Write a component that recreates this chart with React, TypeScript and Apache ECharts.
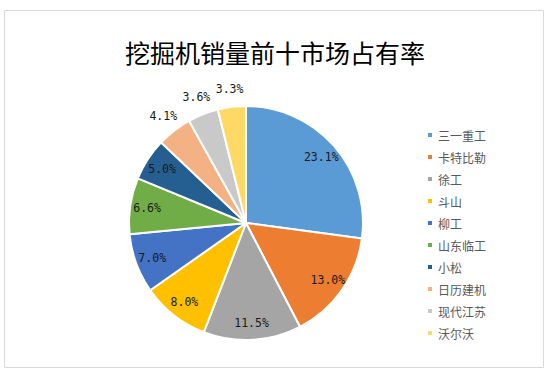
import React, { useEffect, useRef } from "react";
import * as echarts from "echarts";

const titleText = "挖掘机销量前十市场占有率";
const brands = ["三一重工", "卡特比勒", "徐工", "斗山", "柳工", "山东临工", "小松", "日历建机", "现代江苏", "沃尔沃"];
const shares = [23.1, 13.0, 11.5, 8.0, 7.0, 6.6, 5.0, 4.1, 3.6, 3.3];
const colors = ["#5B9BD5", "#ED7D31", "#A5A5A5", "#FFC000", "#4472C4", "#70AD47", "#255E91", "#F4B183", "#C9C9C9", "#FFD966"];
// which labels Excel placed outside the pie
const outsideLabel = [false, false, false, false, false, false, false, true, true, true];

export default function App() {
  const ref = useRef<HTMLDivElement>(null);
  useEffect(() => {
    if (!ref.current) return;
    const chart = echarts.init(ref.current, undefined, { renderer: "svg" });
    const center = [246, 223];
    const R = 117;
    const labelFont = {
      fontFamily: "DejaVu Sans Mono",
      fontSize: 11.5,
      color: "#1a1a1a",
    };
    const fmt = (p: any) => `${Number(p.value).toFixed(1)}%`;
    chart.setOption({
      animation: false,
      backgroundColor: "#ffffff",
      title: {
        text: titleText,
        left: 270,
        top: 34,
        textAlign: "center",
        textStyle: {
          fontFamily: "Noto Sans CJK SC",
          fontSize: 25,
          fontWeight: "normal",
          color: "#000000",
        },
      },
      graphic: [
        {
          type: "rect",
          shape: { x: 4.5, y: 10.5, width: 539, height: 357 },
          style: { fill: "none", stroke: "#D9D9D9", lineWidth: 1 },
          silent: true,
          z: -10,
        },
      ],
      legend: {
        orient: "vertical",
        left: 421,
        top: 124,
        itemWidth: 6,
        itemHeight: 6,
        itemGap: 10,
        icon: "rect",
        data: brands,
        textStyle: {
          fontFamily: "Noto Sans CJK SC",
          fontSize: 12,
          lineHeight: 12,
          color: "#595959",
        },
      },
      series: [
        {
          type: "pie",
          center,
          radius: [0, R],
          startAngle: 90,
          clockwise: true,
          avoidLabelOverlap: false,
          label: { show: false },
          labelLine: { show: false },
          itemStyle: { borderColor: "#ffffff", borderWidth: 2 },
          emphasis: { disabled: true },
          data: brands.map((n, i) => ({ name: n, value: shares[i], itemStyle: { color: colors[i] } })),
        },
        {
          type: "pie",
          center,
          radius: [77, R],
          startAngle: 90,
          clockwise: true,
          silent: true,
          avoidLabelOverlap: false,
          itemStyle: { color: "rgba(0,0,0,0)" },
          labelLine: { show: false },
          emphasis: { disabled: true },
          label: { show: true, position: "inside", formatter: fmt, ...labelFont },
          data: brands.map((n, i) => ({
            name: n,
            value: shares[i],
            label: { show: !outsideLabel[i] },
          })),
        },
        {
          type: "pie",
          center,
          radius: [R + 3, R + 27],
          startAngle: 90,
          clockwise: true,
          silent: true,
          avoidLabelOverlap: false,
          itemStyle: { color: "rgba(0,0,0,0)" },
          labelLine: { show: false },
          emphasis: { disabled: true },
          label: { show: true, position: "inside", formatter: fmt, ...labelFont },
          data: brands.map((n, i) => ({
            name: n,
            value: shares[i],
            label: { show: outsideLabel[i] },
          })),
        },
      ],
    });
    return () => chart.dispose();
  }, []);
  return (
    <div style={{ position: "fixed", left: 0, top: 0, width: 551, height: 377, background: "#fff" }}>
      <div ref={ref} style={{ width: 551, height: 377 }} />
    </div>
  );
}
